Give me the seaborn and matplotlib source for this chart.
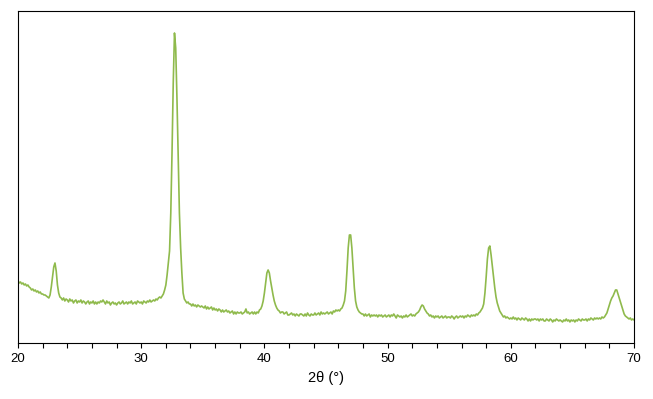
"""
XRD pattern, 2-theta scan from 20 to 70 degrees.
"""

import numpy as np
import pandas as pd
import matplotlib
matplotlib.use("Agg")
import matplotlib.pyplot as plt
from matplotlib.ticker import MultipleLocator
import seaborn as sns

# intensity (a.u.), one row per degree, 0.1 degree steps
intensity = [
    62, 60, 61, 59, 60, 58, 59, 57, 58, 56,            # 20
    55, 53, 54, 52, 53, 51, 52, 50, 51, 49,            # 21
    49, 48, 48, 47, 46, 45, 48, 56, 66, 76,            # 22
    80, 72, 58, 50, 46, 45, 43, 45, 42, 44,            # 23
    43, 41, 44, 42, 43, 40, 42, 43, 40, 42,            # 24
    41, 43, 40, 42, 41, 39, 41, 42, 39, 41,            # 25
    40, 42, 39, 41, 39, 41, 40, 42, 41, 43,            # 26
    41, 39, 42, 40, 41, 38, 40, 41, 39, 40,            # 27
    38, 40, 41, 39, 40, 42, 39, 40, 41, 39,            # 28
    41, 40, 42, 39, 40, 41, 39, 42, 41, 40,            # 29
    41, 39, 42, 41, 40, 42, 41, 43, 41, 42,            # 30
    43, 42, 44, 43, 45, 46, 45, 47, 49, 53,            # 31
    58, 68, 80, 92, 130, 190, 260, 310, 295, 245,      # 32
    185, 130, 95, 70, 50, 44, 42, 40, 41, 39,          # 33
    39, 37, 39, 37, 38, 36, 38, 37, 36, 37,            # 34
    36, 35, 37, 34, 36, 34, 35, 36, 33, 35,            # 35
    33, 34, 32, 34, 33, 31, 33, 31, 32, 33,            # 36
    31, 32, 30, 31, 32, 29, 31, 29, 31, 30,            # 37
    30, 31, 29, 30, 31, 34, 30, 31, 29, 30,            # 38
    31, 29, 31, 29, 31, 30, 33, 34, 37, 42,            # 39
    50, 60, 70, 73, 70, 62, 55, 48, 42, 38,            # 40
    35, 33, 32, 30, 31, 31, 29, 30, 31, 28,            # 41
    28, 29, 30, 28, 29, 27, 29, 28, 27, 29,            # 42
    29, 28, 27, 29, 27, 30, 28, 27, 29, 28,            # 43
    28, 30, 28, 29, 30, 28, 31, 29, 30, 29,            # 44
    30, 31, 29, 30, 31, 29, 32, 31, 33, 32,            # 45
    33, 32, 34, 35, 38, 42, 52, 72, 95, 108,           # 46
    108, 95, 75, 55, 42, 36, 33, 31, 30, 29,           # 47
    29, 27, 29, 27, 28, 29, 26, 28, 27, 28,            # 48
    27, 28, 26, 28, 27, 28, 26, 27, 28, 26,            # 49
    27, 28, 26, 28, 27, 29, 27, 25, 28, 27,            # 50
    26, 27, 25, 27, 26, 28, 26, 27, 28, 29,            # 51
    27, 28, 27, 29, 30, 31, 33, 36, 38, 37,            # 52
    34, 32, 30, 29, 27, 28, 26, 27, 25, 27,            # 53
    26, 27, 25, 26, 27, 25, 26, 27, 25, 26,            # 54
    26, 25, 27, 26, 24, 26, 27, 25, 26, 27,            # 55
    26, 27, 25, 27, 26, 28, 27, 26, 28, 27,            # 56
    28, 27, 29, 28, 30, 31, 33, 35, 39, 50,            # 57
    66, 84, 95, 97, 88, 77, 66, 55, 46, 40,            # 58
    36, 32, 30, 28, 26, 27, 25, 26, 25, 24,            # 59
    25, 24, 26, 24, 25, 23, 25, 24, 23, 25,            # 60
    24, 23, 25, 24, 22, 24, 22, 24, 23, 24,            # 61
    24, 23, 24, 22, 24, 23, 24, 22, 22, 24,            # 62
    23, 22, 24, 23, 21, 23, 22, 24, 23, 22,            # 63
    23, 22, 21, 23, 22, 24, 22, 23, 21, 23,            # 64
    22, 23, 21, 23, 22, 24, 23, 22, 24, 23,            # 65
    23, 24, 22, 24, 23, 25, 24, 23, 25, 24,            # 66
    25, 24, 25, 24, 26, 25, 26, 28, 30, 34,            # 67
    38, 42, 45, 47, 50, 53, 53, 49, 45, 41,            # 68
    37, 33, 29, 27, 26, 25, 24, 25, 23, 24,            # 69
    23,                                                # 70
]
two_theta = np.linspace(20, 70, len(intensity))

x_ticks = [20, 30, 40, 50, 60, 70]
line_color = '#8fba4c'

df = pd.DataFrame({'two_theta': two_theta, 'intensity': intensity})

sns.set_style("white")
plt.rcParams['font.family'] = ['Liberation Sans', 'DejaVu Sans']

fig = plt.figure(figsize=(6.53, 3.99), dpi=100)
ax = fig.add_axes([0.0276, 0.1404, 0.9433, 0.8321])

sns.lineplot(data=df, x='two_theta', y='intensity', color=line_color,
             linewidth=1.2, ax=ax)

ax.set_xlim(20, 70)
ax.set_ylim(0, 332)
ax.set_xticks(x_ticks)
ax.xaxis.set_minor_locator(MultipleLocator(2))
ax.set_yticks([])
ax.tick_params(axis='x', which='both', direction='out', length=3.5,
               width=0.8, color='black', labelcolor='black',
               labelsize=9.5, pad=4, bottom=True)
ax.set_xlabel('2θ (°)', fontsize=10.5, labelpad=4, color='black')
ax.set_ylabel('')

for spine in ax.spines.values():
    spine.set_color('black')
    spine.set_linewidth(0.8)

fig.savefig('out.png', dpi=100)
plt.close(fig)
